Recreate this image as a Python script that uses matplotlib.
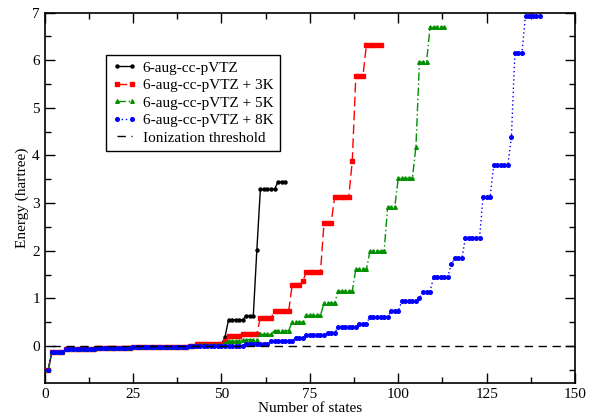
import numpy as np
import matplotlib
matplotlib.use('Agg')
import matplotlib.pyplot as plt

plt.rcParams['font.family'] = ['Liberation Serif', 'DejaVu Serif']
plt.rcParams['mathtext.fontset'] = 'stix'

# bound states shared by all four bases (n = 1..42)
low = [-0.50, -0.13, -0.13, -0.13, -0.13,
       -0.075, -0.072, -0.070, -0.070, -0.068, -0.068, -0.066, -0.066, -0.065,
       -0.050, -0.050, -0.048, -0.046, -0.045, -0.044, -0.042, -0.040, -0.040, -0.038,
       -0.032, -0.030, -0.030, -0.028, -0.027, -0.026, -0.025, -0.024, -0.022, -0.021,
       -0.018, -0.017, -0.016, -0.015, -0.014, -0.013, -0.012, -0.012]

# states 43 onwards, per basis
e_base = [0.03, 0.03, 0.03, 0.03, 0.03, 0.03, 0.03, 0.03,
          0.19, 0.55, 0.55, 0.55, 0.55, 0.55, 0.63, 0.63, 0.63, 2.01,
          3.29, 3.29, 3.29, 3.29, 3.29, 3.45, 3.45, 3.45]
e_3k = [0.03, 0.03, 0.03, 0.03, 0.03, 0.03, 0.03, 0.03,
        0.10, 0.21, 0.21, 0.21, 0.21, 0.26, 0.26, 0.26, 0.26, 0.26,
        0.59, 0.59, 0.59, 0.59, 0.73, 0.73, 0.73, 0.73, 0.73,
        1.28, 1.28, 1.28, 1.36, 1.55, 1.55, 1.55, 1.55, 1.55,
        2.58, 2.58, 2.58, 3.12, 3.12, 3.12, 3.12, 3.12, 3.89,
        5.66, 5.66, 5.66, 6.32, 6.32, 6.32, 6.32, 6.32]
e_5k = [0.01, 0.01, 0.01, 0.01, 0.01, 0.01, 0.01, 0.01,
        0.06, 0.10, 0.10, 0.10, 0.10, 0.13, 0.13, 0.13, 0.13, 0.13,
        0.24, 0.24, 0.24, 0.24, 0.32, 0.32, 0.32, 0.32, 0.32,
        0.50, 0.50, 0.50, 0.50, 0.64, 0.64, 0.64, 0.64, 0.64,
        0.90, 0.90, 0.90, 0.90, 1.15, 1.15, 1.15, 1.15, 1.15,
        1.61, 1.61, 1.61, 1.61, 1.99, 1.99, 1.99, 1.99, 1.99,
        2.91, 2.91, 2.91, 3.52, 3.52, 3.52, 3.52, 3.52, 4.18,
        5.96, 5.96, 5.96, 6.69, 6.69, 6.69, 6.69, 6.69]
e_8k = [-0.01, -0.01, -0.01, -0.01, -0.01, -0.01, -0.01, -0.01,
        0.0, 0.0, 0.0, 0.0, 0.0, 0.0, 0.05, 0.05, 0.05, 0.05, 0.05, 0.05, 0.05,
        0.10, 0.10, 0.10, 0.10, 0.10, 0.10, 0.10,
        0.17, 0.17, 0.17, 0.22, 0.22, 0.22, 0.22, 0.22, 0.22,
        0.28, 0.28, 0.28, 0.39, 0.39, 0.39, 0.39, 0.39, 0.39,
        0.47, 0.47, 0.47, 0.61, 0.61, 0.61, 0.61, 0.61, 0.61,
        0.73, 0.73, 0.73, 0.94, 0.94, 0.94, 0.94, 0.94, 1.00,
        1.14, 1.14, 1.14, 1.45, 1.45, 1.45, 1.45, 1.45, 1.72,
        1.84, 1.84, 1.84, 2.27, 2.27, 2.27, 2.27, 2.27,
        3.13, 3.13, 3.13, 3.80, 3.80, 3.80, 3.80, 3.80, 4.38,
        6.16, 6.16, 6.16, 6.94, 6.94, 6.94, 6.94, 6.94]

labels = ['6-aug-cc-pVTZ', '6-aug-cc-pVTZ + 3K',
          '6-aug-cc-pVTZ + 5K', '6-aug-cc-pVTZ + 8K']
threshold = 0.0

fig = plt.figure(figsize=(5.94, 4.2), dpi=100)
ax = fig.add_axes([0.0753, 0.088, 0.8927, 0.8818])

styles = [dict(color='black', ls='-', marker='o', ms=2.2),
          dict(color='red', ls=(0, (7, 3)), marker='s', ms=2.2),
          dict(color='#009000', ls=(0, (6, 2, 1, 2)), marker='^', ms=2.6),
          dict(color='blue', ls=(0, (1, 2)), marker='o', ms=2.6)]

for tail, lab, st in zip([e_base, e_3k, e_5k, e_8k], labels, styles):
    y = np.array(low + tail)
    x = np.arange(1, len(y) + 1)
    ax.plot(x, y, lw=1.0, mec=st['color'], mfc=st['color'], label=lab, **st)

ax.plot([2, 150], [threshold, threshold], color='black', ls=(0, (6, 4)), lw=1.0,
        label='Ionization threshold')

ax.set_xlim(0, 150)
ax.set_ylim(-0.78, 7)
ax.set_xticks(np.arange(0, 151, 25))
ax.set_xticks(np.arange(0, 151, 12.5), minor=True)
ax.set_yticks(np.arange(0, 8, 1))
ax.set_yticks(np.arange(-0.5, 7.01, 0.5), minor=True)
ax.tick_params(which='both', direction='in', top=True, right=True, labelsize=11)
ax.tick_params(which='major', length=7, width=1)
ax.tick_params(which='minor', length=4, width=1)
for s in ax.spines.values():
    s.set_linewidth(1.2)

ax.set_xlabel('Number of states', fontsize=11, labelpad=1)
ax.set_ylabel('Energy (hartree)', fontsize=11, labelpad=2)

leg = ax.legend(loc='upper left', bbox_to_anchor=(0.1156, 0.886), borderaxespad=0,
                fontsize=11, numpoints=2, handlelength=1.6, handletextpad=0.4,
                labelspacing=0.25, fancybox=False, framealpha=1, edgecolor='black',
                borderpad=0.4)
leg.get_frame().set_linewidth(1.0)

plt.savefig('out.png', dpi=100)
